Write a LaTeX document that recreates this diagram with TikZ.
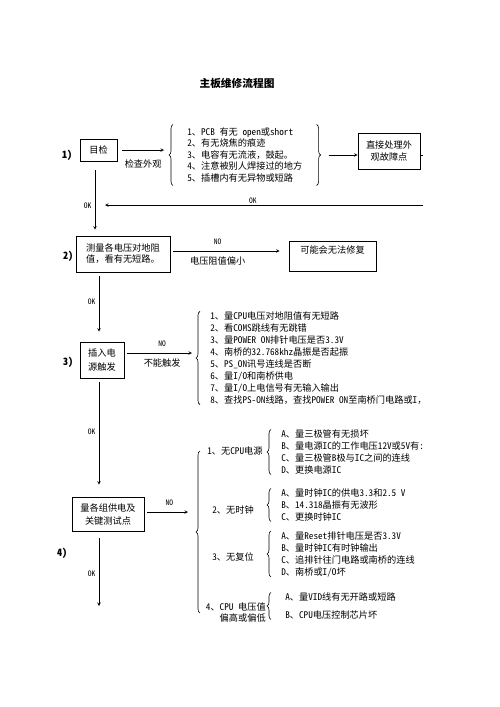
\documentclass[tikz,border=0pt]{standalone}
\usepackage{fontspec}
\setmainfont{Noto Sans CJK SC}[RawFeature=+hwid]
\newfontfamily\fullfont{Noto Sans CJK SC}
\usepackage{tikz}
\usetikzlibrary{decorations.pathreplacing}
\newcommand{\txt}{\fontsize{9.2}{12}\selectfont}
\newcommand{\oktxt}{\fontsize{7.5}{8}\selectfont}
\newcommand{\fc}{{\fullfont ，}}

\begin{document}
\begin{tikzpicture}[->, >=stealth, semithick, x=1pt, y=-1pt]
\tikzstyle{stepbox}=[draw, rectangle, inner sep=2pt, font=\txt, align=center]
\tikzstyle{listtext}=[draw=none, anchor=west, align=left, font=\txt, inner ysep=0pt]
\tikzstyle{itemtext}=[draw=none, anchor=west, inner sep=0pt, font=\txt]
\tikzstyle{steplbl}=[font=\fontsize{10}{12}\selectfont\bfseries]
\tikzstyle{brc}=[-, decorate, decoration={brace, amplitude=4pt}]
\tikzstyle{lbl}=[font=\oktxt]
\useasboundingbox (0,0) rectangle (500,707);
\clip (0,0) rectangle (424,707);

\node[font=\fontsize{10.7}{12}\selectfont\bfseries]	(title) at (237,83)	{主板维修流程图};

% 1)
\node[steplbl]	(n1) at (67,155)	{1)};
\node[stepbox, minimum width=37pt, minimum height=22pt]	(chk) at (98.5,150)	{目检};
\node[listtext, inner xsep=14pt, inner ysep=3pt, font=\fontsize{9.2}{11.5}\selectfont]	(l1) at (173,155)	{1、PCB 有无 open或short\\2、有无烧焦的痕迹\\3、电容有无流液\fc 鼓起。\\4、注意被别人焊接过的地方\\5、插槽内有无异物或短路};
\node[stepbox, minimum width=62pt, minimum height=36pt]	(fix) at (389,151)	{直接处理外\\观故障点};
\coordinate (ret) at (423,205);

% 2)
\node[steplbl]	(n2) at (68,256)	{2)};
\node[stepbox, minimum width=94pt, minimum height=36pt, align=left, font=\fontsize{9.2}{11}\selectfont]	(meas) at (123,254)	{测量各电压对地阻\\值\fc 看有无短路。};
\node[stepbox, minimum width=87pt, minimum height=30pt, text height=7pt, text depth=12pt]	(fail) at (332.5,256)	{可能会无法修复};

% 3)
\node[steplbl]	(n3) at (68,362)	{3)};
\node[stepbox, minimum width=44pt, minimum height=36pt, font=\fontsize{9.2}{14}\selectfont]	(trig) at (102,360)	{插入电\\源触发};
\node[listtext, inner xsep=10pt]	(l3) at (200,358)	{1、量CPU电压对地阻值有无短路\\2、看COMS跳线有无跳错\\3、量POWER ON排针电压是否3.3V\\4、南桥的32.768khz晶振是否起振\\5、PS\_ON讯号连线是否断\\6、量I/O和南桥供电\\7、量I/O上电信号有无输入输出\\8、查找PS-ON线路\fc 查找POWER ON至南桥门电路或I\fc};

% 4)
\node[steplbl]	(n4) at (62,553)	{4)};
\node[stepbox, minimum width=72pt, minimum height=34pt, font=\fontsize{9.2}{13}\selectfont]	(sup) at (108,514)	{量各组供电及\\关键测试点};
\coordinate (end4) at (99,606);

\node[itemtext]	(c1) at (207,451)	{1、无CPU电源};
\node[itemtext]	(c2) at (212,510)	{2、无时钟};
\node[itemtext]	(c3) at (212,557)	{3、无复位};
\node[itemtext, anchor=east, align=right, font=\fontsize{9.2}{11}\selectfont]	(c4) at (266,613)	{4、CPU 电压值\\偏高或偏低};

\node[listtext, inner xsep=10pt]	(b1) at (271,452)	{A、量三极管有无损坏\\B、量电源IC的工作电压12V或5V有:\\C、量三极管B极与IC之间的连线\\D、更换电源IC};
\node[listtext, inner xsep=10pt]	(b2) at (271,505)	{A、量时钟IC的供电3.3和2.5 V\\B、14.318晶振有无波形\\C、更换时钟IC};
\node[listtext, inner xsep=10pt]	(b3) at (271,554)	{A、量Reset排针电压是否3.3V\\B、量时钟IC有时钟输出\\C、追排针往门电路或南桥的连线\\D、南桥或I/O坏};
\node[listtext, inner xsep=14pt, font=\fontsize{9.2}{18}\selectfont]	(b4) at (271,606)	{A、量VID线有无开路或短路\\B、CPU电压控制芯片坏};

% braces
\draw[brc] (l1.south west) -- (l1.north west);
\draw[brc] (l1.north east) -- (l1.south east);
\draw[brc] (l3.south west) -- (l3.north west);
\draw[brc] ([xshift=-7pt]c1.west |- c4.east) -- ([xshift=-7pt]c1.west);
\draw[brc] (b1.south west) -- (b1.north west);
\draw[brc] (b2.south west) -- (b2.north west);
\draw[brc] (b3.south west) -- (b3.north west);
\draw[brc] (b4.south west) -- (b4.north west);

\path
([xshift=5pt]chk.east) edge	node[below=6pt, font=\txt]{检查外观}	([xshift=-9pt]l1.west |- chk.east)
([xshift=12pt]l1.east) edge	(l1.east -| fix.west)
(ret) edge	node[above, inner sep=1pt, pos=0.535, lbl]{OK}	([xshift=6.5pt]chk.south |- ret)
([xshift=-3.5pt]chk.south) edge[shorten <=9pt, shorten >=6pt]	node[left, pos=0.6, lbl]{OK}	([xshift=-3.5pt]chk.south |- meas.north)

([yshift=3pt]meas.east) edge[shorten <=3pt, shorten >=9pt]	node[above=3pt, pos=0.4, lbl]{NO} node[below=2pt, pos=0.4, font=\txt]{电压阻值偏小}	([yshift=3pt]meas.east -| fail.west)
([xshift=-3pt]trig.north |- meas.south) edge[shorten <=4pt, shorten >=10pt]	node[left, pos=0.43, lbl]{OK}	([xshift=-3pt]trig.north)

([yshift=7pt]trig.east) edge[shorten <=3pt, shorten >=8pt]	node[above=3pt, lbl]{NO} node[below=2pt, font=\txt]{不能触发}	([yshift=7pt]trig.east -| l3.west)
([xshift=-3pt]trig.south) edge[shorten <=4pt, shorten >=12pt]	node[left, pos=0.45, lbl]{OK}	([xshift=-3pt]trig.south |- sup.north)

([yshift=2pt]sup.east) edge[shorten <=3pt, shorten >=19pt]	node[above=3pt, pos=0.4, lbl]{NO}	([yshift=2pt]sup.east -| c1.west)
([xshift=-9pt]sup.south) edge[shorten <=7pt]	node[left, pos=0.57, lbl]{OK}	(end4);

\draw[-] (fix.east |- l1.east) -- ++(3,0);

\end{tikzpicture}
\end{document}
